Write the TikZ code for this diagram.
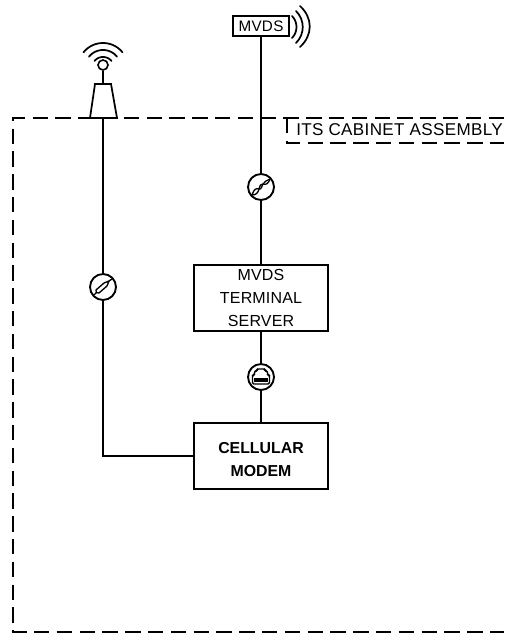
\documentclass[tikz,border=0pt]{standalone}
\usepackage{fontspec}
\setmainfont{Liberation Sans}
\tikzset{
  px/.style={x=0.75pt,y=-0.75pt},
  wire/.style={line width=1.3pt,black},
  thin wire/.style={line width=1pt,black},
  boundary/.style={line width=1.3pt,black,dash pattern=on 11.5pt off 5.6pt},
  devbox/.style={draw,line width=1.3pt,minimum width=100.5pt,minimum height=49.5pt,inner sep=0pt,align=center},
  badge/.style={draw,circle,line width=1.4pt,minimum size=19.5pt,inner sep=0pt,fill=white},
  tslabel/.style={font=\fontsize{12}{17.2}\selectfont\addfontfeature{LetterSpace=1}},
  modemlabel/.style={font=\fontsize{11.9}{17.2}\selectfont\bfseries},
}
\begin{document}
\begin{tikzpicture}[px]
\useasboundingbox (0,0) rectangle (504,634);
% cabinet boundary
\draw[boundary] (504,118) -- (13,118) -- (13,632) -- (504,632);
\draw[boundary] (287,118) -- (287,143) -- (504,143);
\node[anchor=base west,inner sep=0pt,font=\fontsize{12.8}{14}\selectfont\addfontfeature{LetterSpace=2}] (cab) at (296,136) {ITS CABINET ASSEMBLY};
% boxes
\node[devbox,tslabel] (ts) at (261,298) {MVDS\\TERMINAL\\SERVER};
\node[devbox,modemlabel] (modem) at (261,456) {\rule{0pt}{13.5pt}CELLULAR\\MODEM};
\node[draw,line width=1.3pt,minimum width=42pt,minimum height=15pt,inner sep=0pt,font=\fontsize{11.4}{13}\selectfont\addfontfeature{LetterSpace=2}] (mvds) at (261,26) {MVDS};
% badges
\node[badge] (tp) at (261,187) {};
\node[badge] (fo) at (103,287) {};
\node[badge] (rj) at (261,377) {};
% antenna
\coordinate (mast) at (103,118);
\coordinate (modemL) at (103,456);
\node[draw,circle,line width=1.2pt,minimum size=7.5pt,inner sep=0pt] (ant) at (103,65) {};
\draw[wire,line join=miter] (90,118) -- (95,84) -- (111,84) -- (117,118) -- cycle;
\draw[wire] (ant) -- (103,84);
\foreach \r in {11,18,25}{
  \draw[wire,line cap=round,domain=39:141,samples=25,smooth,variable=\t] plot ({103+\r*cos(\t)},{68-\r*sin(\t)});
}
% connectors
\draw[wire] (mvds) -- (tp);
\draw[wire] (tp) -- (ts);
\draw[wire] (ts) -- (rj);
\draw[wire] (rj) -- (modem);
\draw[wire] (mast) -- (fo);
\draw[wire] (fo) -- (modemL) -- (modem);
% radio waves
\draw[wire,line cap=round] (292,16) .. controls (298,22) and (298,32) .. (292,38);
\draw[wire,line cap=round] (296,11) .. controls (305,20) and (305,34) .. (296,43);
\draw[wire,line cap=round] (300,6) .. controls (313,18) and (313,35) .. (300,47);
% twisted pair icon
\begin{scope}[shift={(tp)}]
\draw[thin wire] (-9,8) .. controls (-7,2) and (-5,1) .. (-2,2) .. controls (0,3) and (1,-1) .. (2,-3) .. controls (3,-6) and (6,-6) .. (9,-8);
\draw[thin wire] (-9,8) .. controls (-5,8) and (-3,6) .. (-2,2) .. controls (-1,-2) and (0,-3) .. (2,-3) .. controls (5,-2) and (7,-3) .. (9,-8);
\end{scope}
% fibre icon
\begin{scope}[shift={(fo)}]
\draw[thin wire] (-9,8) -- (-6,5);
\draw[thin wire] (-7,3) -- (1,-4) -- (6,-6) -- (4,-1) -- (-4,6) .. controls (-6,7) and (-8,5) .. (-7,3) -- cycle;
\draw[thin wire] (6,-6) -- (9,-8);
\end{scope}
% RJ45 icon
\begin{scope}[shift={(rj)}]
\draw[thin wire,rounded corners=1pt] (-8.5,7) -- (-8.5,-2) -- (-6.5,-2) -- (-6.5,-6) -- (-4,-6) -- (-4,-8) -- (4,-8) -- (4,-6) -- (6.5,-6) -- (6.5,-2) -- (8.5,-2) -- (8.5,7) -- cycle;
\fill (-7,0.5) rectangle (7,5);
\end{scope}
\end{tikzpicture}
\end{document}
